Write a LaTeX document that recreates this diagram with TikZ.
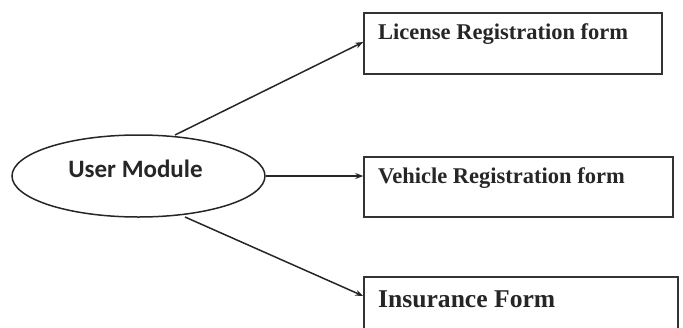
\documentclass[tikz,border=0pt]{standalone}
\usepackage{fontspec}
\setmainfont{Liberation Serif}
\newfontfamily\ellfont{Carlito}
\usetikzlibrary{shapes.geometric,arrows.meta}
\begin{document}
\begin{tikzpicture}[x=1pt,y=-1pt,
  formbox/.style={draw=black!80,line width=1.5pt,inner sep=0pt},
  conn/.style={draw=black!85,line width=1.5pt,-{Stealth[length=8pt,width=6pt]}},
  formtxt/.style={anchor=west,inner sep=0pt,font=\bfseries}]
\useasboundingbox (0,0) rectangle (683,327);
\node[draw=black!85,line width=1.5pt,ellipse,minimum width=253pt,minimum height=82pt,inner sep=0pt] (um) at (138.5,176) {};
\node[inner sep=0pt,font=\ellfont\bfseries\fontsize{25}{28}\selectfont,text=black!85] (umt) at (135.5,169) {User Module};
\node[formbox,minimum width=298pt,minimum height=61pt] (b1) at (513,43.5) {};
\node[formbox,minimum width=309pt,minimum height=60pt] (b2) at (518.5,187) {};
\node[formbox,minimum width=314pt,minimum height=60pt] (b3) at (521,307) {};
\node[formtxt,font=\bfseries\fontsize{22.5}{26}\selectfont,text=black!85] (t1) at (378,34) {License Registration form};
\node[formtxt,font=\bfseries\fontsize{22.5}{26}\selectfont,text=black!85] (t2) at (378,178) {Vehicle Registration form};
\node[formtxt,font=\bfseries\fontsize{25.6}{29}\selectfont,text=black!85] (t3) at (378,299) {Insurance Form};
\coordinate (s1) at (175,135);
\coordinate (s3) at (185,217);
\draw[conn] (s1) -- (b1.west |- 0,42);
\draw[conn] (um.east) -- (b2.west |- um.east);
\draw[conn] (s3) -- (b3.west |- 0,296);
\end{tikzpicture}
\end{document}
